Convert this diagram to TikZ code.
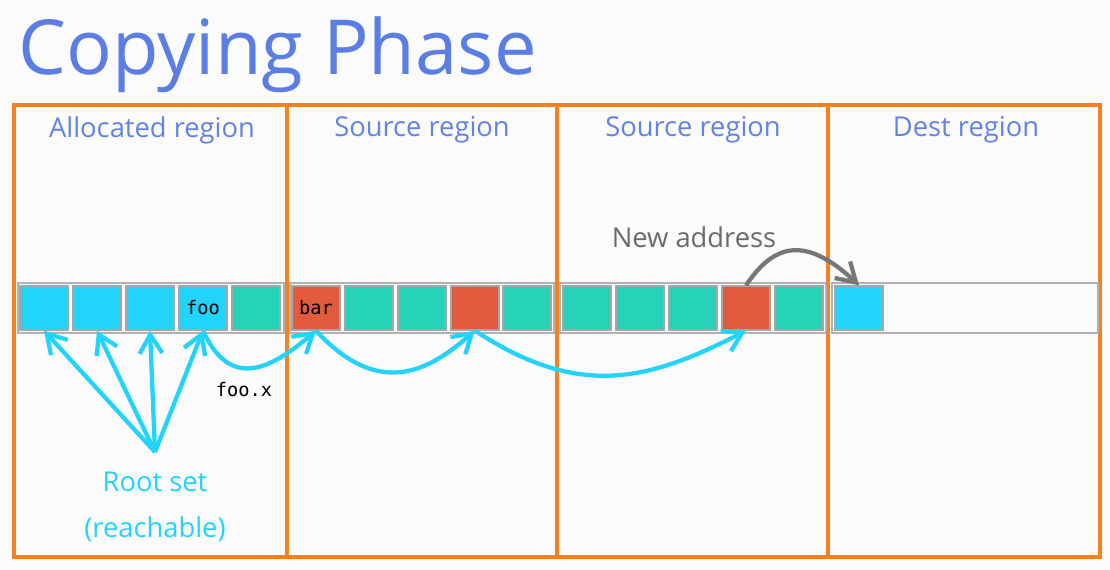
\documentclass[tikz,border=0pt]{standalone}
\usepackage{fontspec}
\setmainfont{Open Sans}
\setmonofont{DejaVu Sans Mono}
\usetikzlibrary{arrows.meta}
\definecolor{ttl}{HTML}{5B7EE6}
\definecolor{lbl}{HTML}{6383E3}
\definecolor{org}{HTML}{F5821F}
\definecolor{cy}{HTML}{22D3FA}
\definecolor{tl}{HTML}{26D3B9}
\definecolor{rd}{HTML}{E35B3E}
\definecolor{gr}{HTML}{777777}
\begin{document}
\begin{tikzpicture}[x=0.75pt,y=-0.75pt,
  cell/.style={draw=gray!70,line width=1pt,minimum width=36pt,minimum height=33pt,inner sep=0pt,font=\ttfamily\fontsize{14}{14}\selectfont},
  strip/.style={draw=gray!60,line width=1pt},
  reg/.style={draw=org,line width=3.5pt},
  rl/.style={text=lbl,font=\fontsize{20.5}{20.5}\selectfont},
  carr/.style={draw=cy,line width=3.2pt,-{Straight Barb[length=14pt,width=17pt,line width=3.2pt]}},
  garr/.style={draw=gr,line width=3.2pt,-{Straight Barb[length=14pt,width=17pt,line width=3.2pt]}}]
\useasboundingbox[fill=white!97!gray] (0,0) rectangle (1110,570);
\node[text=ttl,font=\fontsize{57}{57}\selectfont,anchor=west] (title) at (14,55) {Copying Phase};
\foreach \a/\b in {14/287,287/557,557/828,828/1100}{\draw[reg] (\a,105) rectangle (\b,557);}
\node[rl] (l1) at (152,130) {Allocated region};
\node[rl] (l2) at (422,130) {Source region};
\node[rl] (l3) at (693,130) {Source region};
\node[rl] (l4) at (966,130) {Dest region};
\foreach \a/\b in {18/284,290/554,560/826,832/1098}{\draw[strip] (\a,283) rectangle (\b,333);}
\foreach \n/\x/\c in {a1/44/cy,a2/97/cy,a3/150/cy,a5/256/tl,b2/369/tl,b3/422/tl,b4/475/rd,b5/527/tl,c1/587/tl,c2/640/tl,c3/693/tl,c4/746/rd,c5/799/tl,d1/859/cy}
  {\node[cell,fill=\c] (\n) at (\x,308) {};}
\node[cell,fill=cy] (a4) at (203,308) {foo};
\node[cell,fill=rd] (b1) at (316,308) {bar};
\node[text=cy,font=\fontsize{20.5}{20.5}\selectfont,align=center] (root) at (155,507) {Root set\\[14pt](reachable)};
\coordinate (rs) at (155,452);
\foreach \t in {a1,a2,a3,a4}{\draw[carr] (rs) -- (\t.south);}
\draw[carr] (a4.south) .. controls (230,390) and (270,370) .. (b1.south);
\draw[carr] (b1.south) .. controls (380,400) and (430,370) .. (b4.south);
\draw[carr] (b4.south) .. controls (580,400) and (650,380) .. (c4.south);
\node[font=\ttfamily\fontsize{14}{14}\selectfont] (fx) at (244,390) {foo.x};
\node[text=gr!90!black,font=\fontsize{20.5}{20.5}\selectfont] (na) at (694,237) {New address};
\draw[garr] (c4.north) .. controls (770,250) and (800,230) .. (d1.north);
\end{tikzpicture}
\end{document}
